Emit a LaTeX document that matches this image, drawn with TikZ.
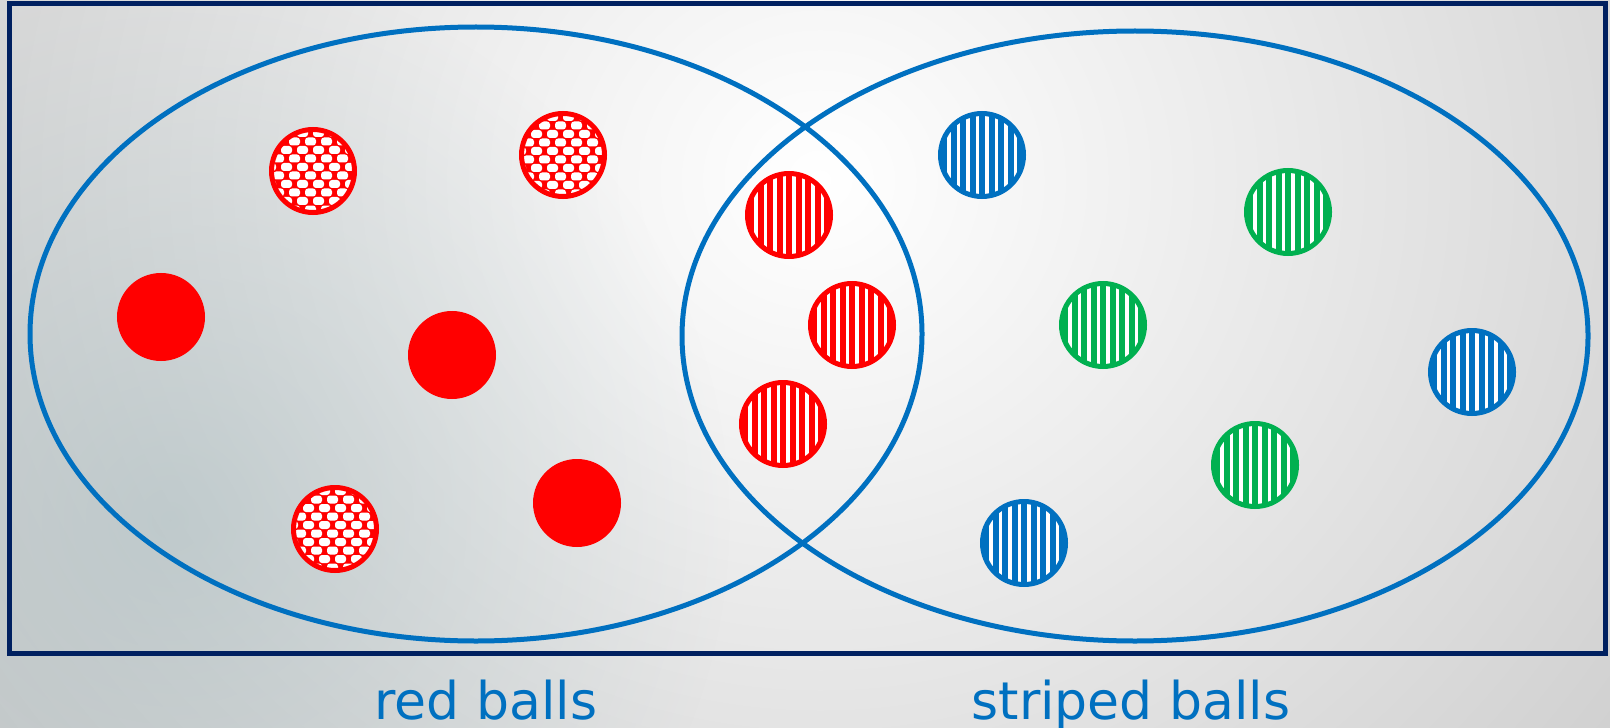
\documentclass[tikz,border=0pt]{standalone}
\usepackage{fontspec}
\newfontfamily\labelfont{DejaVu Sans}
\usetikzlibrary{fadings}
\definecolor{cFrame}{HTML}{002060}
\definecolor{cSet}{HTML}{0070C0}
\definecolor{cRed}{HTML}{FF0000}
\definecolor{cGreen}{HTML}{00B050}
\definecolor{cBlue}{HTML}{0070C0}
\definecolor{cEdge}{HTML}{B4B4B4}
\definecolor{cTint}{HTML}{A3B8BC}
\tikzfading[name=tintfade,inner color=transparent!0,outer color=transparent!100]
\tikzset{
  ball/.style={circle,draw=#1,line width=0.5mm,inner sep=0pt,minimum size=8.3mm},
  solidball/.style={ball=cRed,fill=cRed},
  stripeball/.style={ball=#1,fill=white,path picture={
      \foreach \k in {-4,...,4}
        \draw[#1,line width=0.6mm] ([xshift=\k*0.95mm]path picture bounding box.south)
          -- ([xshift=\k*0.95mm]path picture bounding box.north);}},
  dotball/.style={ball=cRed,fill=cRed,path picture={
      \foreach \r in {0,...,11}{\pgfmathsetmacro\off{mod(\r,2)*0.8}
        \foreach \c in {-4,...,3}
          \fill[white,rounded corners=0.3mm]
            ([shift={(\c*1.6mm+\off*1mm,\r*0.85mm-5.1mm)}]path picture bounding box.center)
            rectangle ++(1.1mm,0.8mm);}}},
  setline/.style={draw=cSet,line width=0.5mm},
  setlabel/.style={text=cSet,font=\labelfont\fontsize{14.8pt}{17pt}\selectfont,anchor=base},
}

\begin{document}
\begin{tikzpicture}[x=0.1mm,y=-0.1mm]
  \useasboundingbox (0,0) rectangle (1610,727);
  % backdrop
  \begin{scope}
    \clip (0,0) rectangle (1610,727);
    \shade[inner color=white,outer color=cEdge] (820,180) ellipse [x radius=1600, y radius=1500];
    \fill[cTint,path fading=tintfade,opacity=0.5] (170,520) circle (560);
  \end{scope}
  \draw[cFrame,line width=0.5mm] (9,4) rectangle (1605,653);
  % the two sets
  \draw[setline] (476,334) ellipse [x radius=446, y radius=307];
  \draw[setline] (1135,336) ellipse [x radius=453, y radius=305];
  % balls
  \foreach \n/\x/\y in {d1/313/171, d2/563/155, d3/335/529}
    \node[dotball] (\n) at (\x,\y) {};
  \foreach \n/\x/\y in {s1/161/317, s2/452/355, s3/577/503}
    \node[solidball] (\n) at (\x,\y) {};
  \foreach \n/\x/\y in {r1/789/215, r2/852/325, r3/783/424}
    \node[stripeball=cRed] (\n) at (\x,\y) {};
  \foreach \n/\x/\y in {b1/982/155, b2/1472/372, b3/1024/543}
    \node[stripeball=cBlue] (\n) at (\x,\y) {};
  \foreach \n/\x/\y in {g1/1288/212, g2/1103/325, g3/1255/465}
    \node[stripeball=cGreen] (\n) at (\x,\y) {};
  \node[setlabel] (redlbl) at (486,719) {red balls};
  \node[setlabel] (stripedlbl) at (1131,719) {striped balls};
\end{tikzpicture}
\end{document}
